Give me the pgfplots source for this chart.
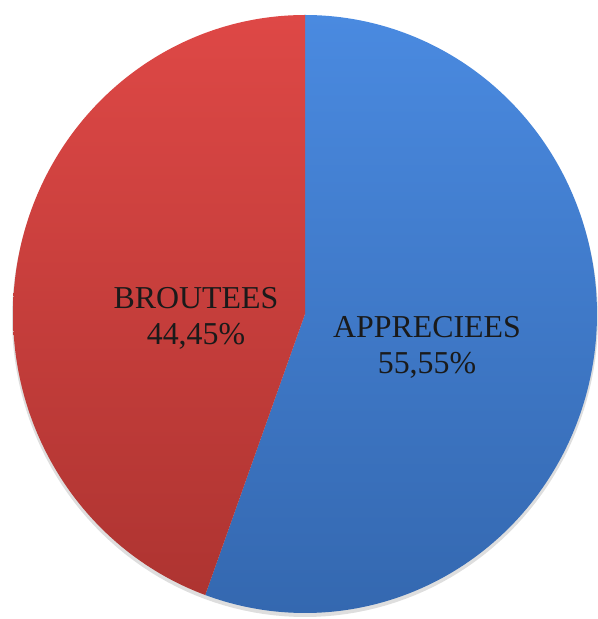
\documentclass[border=0pt]{standalone}
\usepackage{pgfplots}
\pgfplotsset{compat=1.18}
\usepackage{fontspec}
\setmainfont{Liberation Serif}
\definecolor{bluetop}{HTML}{4A8AE0}
\definecolor{bluebot}{HTML}{3468B0}
\definecolor{redtop}{HTML}{DE4846}
\definecolor{redbot}{HTML}{AE3431}
\definecolor{labtxt}{HTML}{1A1A1A}
\definecolor{shadow}{HTML}{C8C8C8}
% shares (percent)
\pgfmathsetmacro{\vA}{55.55}
\pgfmathsetmacro{\vB}{44.45}
\begin{document}
\begin{tikzpicture}
\begin{axis}[
  hide axis, scale only axis,
  width=597bp, height=619bp,
  xmin=0, xmax=597, ymin=0, ymax=619,
  clip=false,
]
\path (rel axis cs:0,0) rectangle (rel axis cs:1,1);
% soft shadow
\addplot[draw=none, fill=shadow, fill opacity=0.6, domain=0:360, samples=181, variable=\t]
  ({305+293*cos(\t)},{301+299*sin(\t)});
% APPRECIEES: clockwise from 12 o'clock
\addplot[draw=none, top color=bluetop, bottom color=bluebot,
  domain=0:201, samples=202, variable=\t]
  ({305+(\t>0.5 && \t<200.5)*292*cos(90-3.6*\vA*min(max((\t-1)/199,0),1))},
   {305+(\t>0.5 && \t<200.5)*299*sin(90-3.6*\vA*min(max((\t-1)/199,0),1))});
% BROUTEES
\addplot[draw=none, top color=redtop, bottom color=redbot,
  domain=0:201, samples=202, variable=\t]
  ({305+(\t>0.5 && \t<200.5)*292*cos(90-3.6*\vA-3.6*\vB*min(max((\t-1)/199,0),1))},
   {305+(\t>0.5 && \t<200.5)*299*sin(90-3.6*\vA-3.6*\vB*min(max((\t-1)/199,0),1))});
\node[align=center, text=labtxt, font=\fontsize{32}{36}\selectfont]
  at (axis cs:427,272) {APPRECIEES\\55,55\%};
\node[align=center, text=labtxt, font=\fontsize{32}{36}\selectfont]
  at (axis cs:196,301) {BROUTEES\\44,45\%};
\end{axis}
\end{tikzpicture}
\end{document}
